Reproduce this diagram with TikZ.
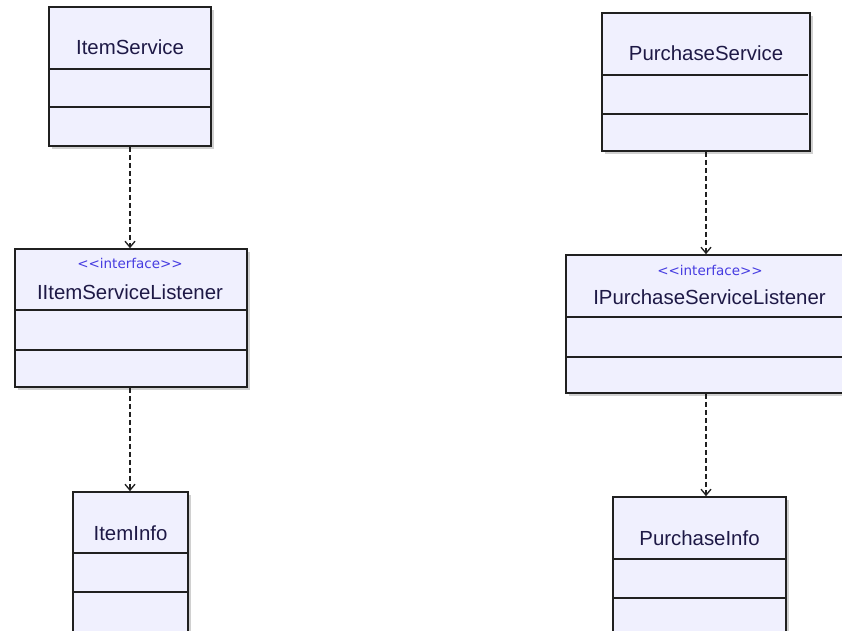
\documentclass[tikz,border=0pt]{standalone}
\usepackage{fontspec}
\setmainfont{Liberation Sans}
\newfontfamily\stereofont{DejaVu Sans}
\usetikzlibrary{arrows.meta,shadows}
\definecolor{boxfill}{RGB}{240,240,254}
\definecolor{boxline}{RGB}{32,32,32}
\definecolor{nametext}{RGB}{30,25,70}
\definecolor{stereotext}{RGB}{70,60,225}
\tikzset{
  cls/.style={draw=boxline, fill=boxfill, line width=1.6pt, inner sep=0pt,
    drop shadow={shadow xshift=3pt, shadow yshift=-3pt, fill=black!30, opacity=0.6}},
  sepline/.style={draw=boxline, line width=1.4pt},
  clsname/.style={text=nametext, font=\fontsize{20.4}{24}\selectfont, inner sep=0pt},
  stereo/.style={text=stereotext, font=\stereofont\fontsize{13.5}{16}\selectfont, inner sep=0pt},
  dep/.style={draw=boxline, line width=1.4pt, dash pattern=on 5pt off 3pt,
    -{Straight Barb[length=6pt,width=10pt,line width=1.3pt]}}
}
\begin{document}
\begin{tikzpicture}[x=1pt,y=-1pt]
\useasboundingbox (0,0) rectangle (842,630);
\clip (0,0) rectangle (842,630);
\fill[white] (0,0) rectangle (842,630);
% ItemService
\node[cls, minimum width=162pt, minimum height=139pt] (is) at (130,76.5) {};
\draw[sepline] (49,69) -- (211,69);
\draw[sepline] (49,107) -- (211,107);
\node[clsname] (isname) at (130,47) {ItemService};
% IItemServiceListener
\node[cls, minimum width=232pt, minimum height=138pt] (isl) at (131,318) {};
\draw[sepline] (15,310) -- (247,310);
\draw[sepline] (15,350) -- (247,350);
\node[stereo] (islst) at (130,263) {<<interface>>};
\node[clsname] (islname) at (130,292) {IItemServiceListener};
% ItemInfo
\node[cls, minimum width=115pt, minimum height=200pt] (ii) at (130.5,592) {};
\draw[sepline] (73,553) -- (188,553);
\draw[sepline] (73,592) -- (188,592);
\node[clsname] (iiname) at (130.5,533) {ItemInfo};
% PurchaseService
\node[cls, minimum width=208pt, minimum height=138pt] (ps) at (706,82) {};
\draw[sepline] (602,75) -- (808,75);
\draw[sepline] (602,114) -- (808,114);
\node[clsname] (psname) at (706,53) {PurchaseService};
% IPurchaseServiceListener
\node[cls, minimum width=287pt, minimum height=138pt] (psl) at (709.5,324) {};
\draw[sepline] (566,317) -- (853,317);
\draw[sepline] (566,357) -- (853,357);
\node[stereo] (pslst) at (710,270) {<<interface>>};
\node[clsname] (pslname) at (709.5,297) {IPurchaseServiceListener};
% PurchaseInfo
\node[cls, minimum width=173pt, minimum height=200pt] (pi) at (699.5,597) {};
\draw[sepline] (613,559) -- (786,559);
\draw[sepline] (613,598) -- (786,598);
\node[clsname] (piname) at (699.5,538) {PurchaseInfo};
% dependencies
\draw[dep] (is.south) -- (is.south |- isl.north);
\draw[dep] (is.south |- isl.south) -- (is.south |- ii.north);
\draw[dep] (ps.south) -- (ps.south |- psl.north);
\draw[dep] (ps.south |- psl.south) -- (ps.south |- pi.north);
\end{tikzpicture}
\end{document}
